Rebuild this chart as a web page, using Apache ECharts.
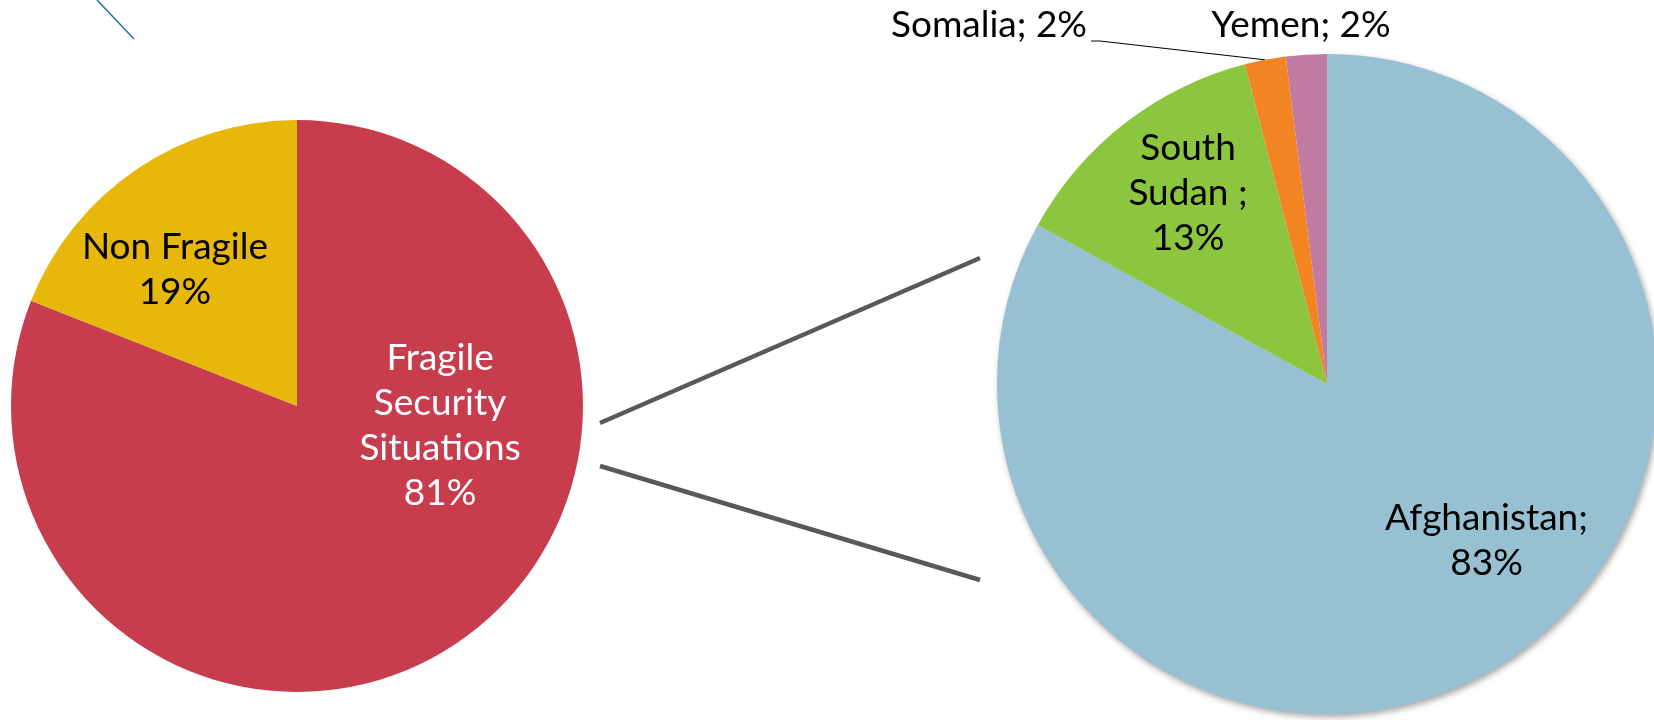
<!DOCTYPE html>
<html>
<head>
<meta charset="utf-8">
<script src="https://cdn.jsdelivr.net/npm/echarts@6/dist/echarts.min.js"></script>
<style>
  html, body { margin: 0; padding: 0; background: #fff; }
  #main { width: 1654px; height: 720px; }
</style>
</head>
<body>
<div id="main"></div>
<script>
// left pie: share of the total
const groupNames = ['Fragile Security Situations', 'Non Fragile'];
const groupLabels = ['Fragile\nSecurity\nSituations', 'Non Fragile'];
const groupValues = [81, 19];

// right pie: breakdown of the fragile part
const countryNames = ['Afghanistan', 'South Sudan', 'Somalia', 'Yemen'];
const countryLabels = ['Afghanistan;', 'South\nSudan ;', 'Somalia;', 'Yemen;'];
const countryValues = [83, 13, 2, 2];

const groupColors = ['#c73d4e', '#e7b70b'];
const groupText = ['#ffffff', '#000000'];
const groupShift = [[61, -101], [-40, -16]];

const countryColors = ['#98c0d3', '#8cc63f', '#f38422', '#c17ba0'];
const countryShift = [[74, 12], [-36, -58], [0, 0], [0, 0]];

const font = 'Lato, "Open Sans", sans-serif';

let myChart = echarts.init(document.getElementById('main'), null, { renderer: 'canvas' });

const leftData = groupNames.map((n, i) => ({
  name: n,
  value: groupValues[i],
  itemStyle: { color: groupColors[i] },
  label: {
    formatter: groupLabels[i] + '\n' + groupValues[i] + '%',
    color: groupText[i],
    offset: groupShift[i]
  }
}));

const rightData = countryNames.map((n, i) => {
  const outside = i >= 2;
  return {
    name: n,
    value: countryValues[i],
    itemStyle: i === 0
      ? { color: countryColors[i], shadowBlur: 6, shadowOffsetX: 2, shadowOffsetY: 3, shadowColor: 'rgba(0,0,0,0.35)' }
      : { color: countryColors[i] },
    label: {
      position: outside ? 'outside' : 'inside',
      formatter: countryLabels[i] + (outside ? ' ' : '\n') + countryValues[i] + '%',
      offset: countryShift[i]
    },
    labelLine: { show: i === 2, lineStyle: { color: '#000', width: 1 } }
  };
});

let option = {
  backgroundColor: '#ffffff',
  animation: false,
  graphic: [
    { type: 'line', shape: { x1: 97, y1: 0, x2: 134, y2: 39 }, style: { stroke: '#1f6fa8', lineWidth: 1.5 } },
    { type: 'line', shape: { x1: 600, y1: 423, x2: 980, y2: 258 }, style: { stroke: '#595959', lineWidth: 4.5 } },
    { type: 'line', shape: { x1: 600, y1: 466, x2: 980, y2: 580 }, style: { stroke: '#595959', lineWidth: 4.5 } }
  ],
  series: [
    {
      name: 'group',
      type: 'pie',
      center: [297, 406],
      radius: [0, 286],
      startAngle: 90,
      clockwise: true,
      itemStyle: { borderWidth: 0 },
      label: {
        show: true,
        position: 'inside',
        fontFamily: font,
        fontSize: 37,
        lineHeight: 45,
        align: 'center'
      },
      labelLine: { show: false },
      emphasis: { disabled: true },
      data: leftData
    },
    {
      name: 'country',
      type: 'pie',
      center: [1327, 384],
      radius: [0, 330],
      startAngle: 90,
      clockwise: true,
      itemStyle: { borderWidth: 0 },
      label: {
        show: true,
        fontFamily: font,
        fontSize: 37,
        lineHeight: 45,
        color: '#000',
        align: 'center'
      },
      labelLine: { length: 10, length2: 10 },
      labelLayout: function (p) {
        if (p.dataIndex === 2) {
          const pts = p.labelLinePoints;
          return {
            x: 1087, y: 25, align: 'right', verticalAlign: 'middle',
            labelLinePoints: [pts[0], [1100, 41], [1091, 41]]
          };
        }
        if (p.dataIndex === 3) {
          return { x: 1301, y: 25, align: 'center', verticalAlign: 'middle' };
        }
      },
      emphasis: { disabled: true },
      data: rightData
    }
  ]
};

myChart.setOption(option);
</script>
</body>
</html>
